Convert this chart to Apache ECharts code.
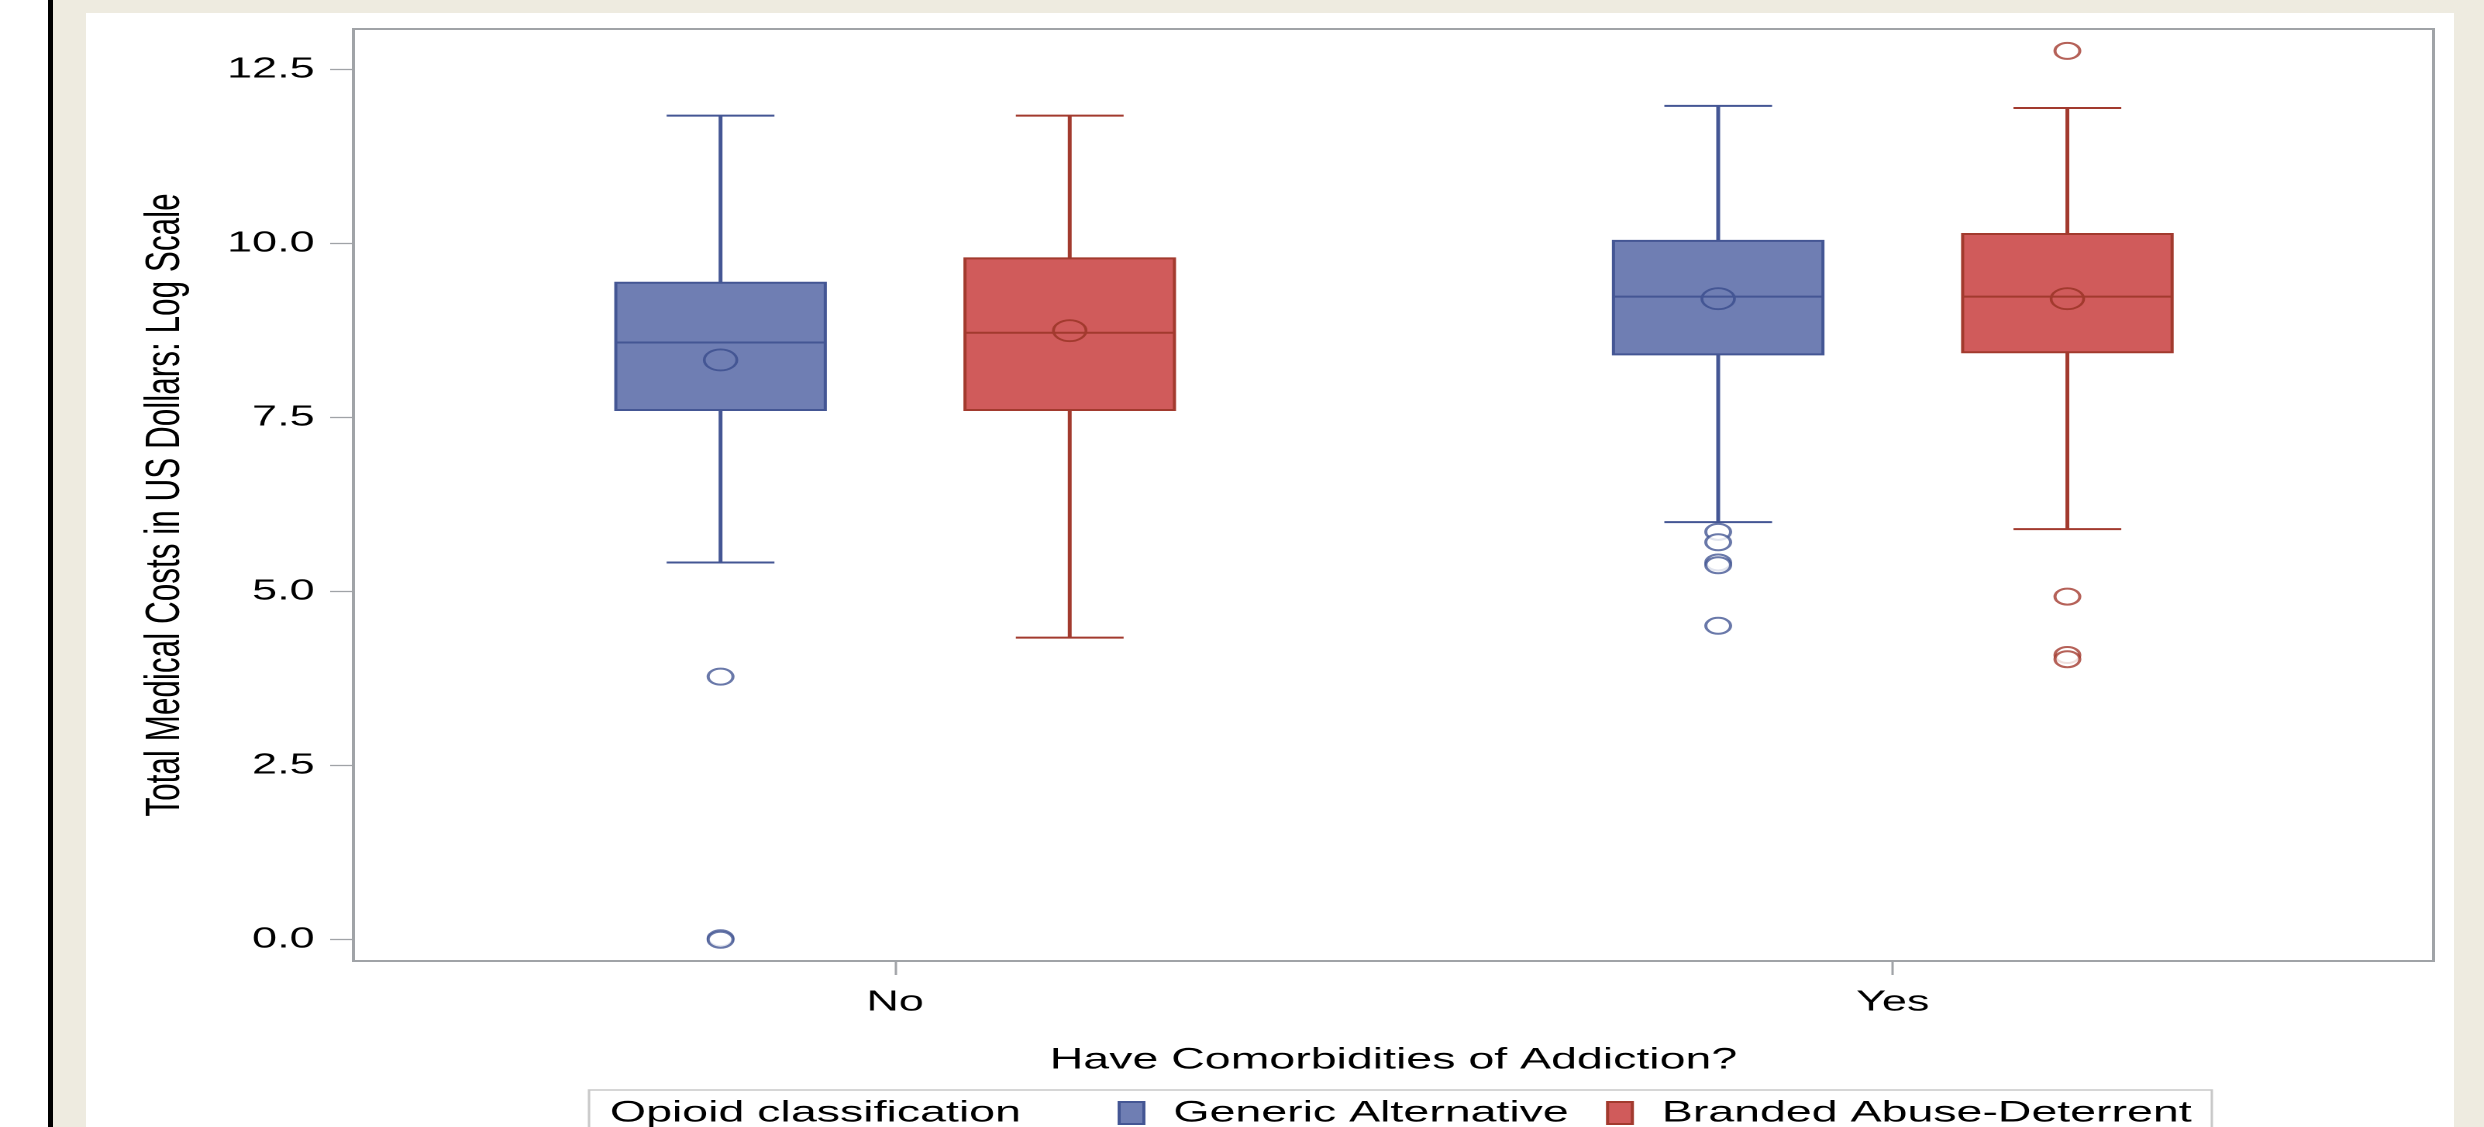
<!DOCTYPE html>
<html><head><meta charset="utf-8">
<script src="https://cdn.jsdelivr.net/npm/echarts@6/dist/echarts.min.js"></script>
<style>
html,body{margin:0;padding:0;width:2484px;height:1127px;overflow:hidden;background:#fff;}
#bar{position:absolute;left:48px;top:0;width:5px;height:1127px;background:#000;}
#beige{position:absolute;left:53px;top:0;width:2431px;height:1127px;background:#EEEBE0;}
#panel{position:absolute;left:86px;top:13px;width:2368px;height:1114px;background:#fff;}
#chart{position:absolute;left:0;top:0;width:1602.58px;height:1127px;transform:scaleX(1.55);transform-origin:0 0;}
</style></head>
<body>
<div id="bar"></div><div id="beige"></div><div id="panel"></div>
<div id="chart"></div>
<script>
// ---- data ----
const categories = ['No', 'Yes'];
const seriesNames = ['Generic Alternative', 'Branded Abuse-Deterrent'];
// [low whisker, Q1, median, Q3, high whisker, mean] per category
const genericStats = [[5.42, 7.61, 8.58, 9.44, 11.84, 8.33], [6.00, 8.41, 9.24, 10.04, 11.98, 9.21]];
const brandedStats = [[4.34, 7.61, 8.72, 9.79, 11.84, 8.75], [5.90, 8.44, 9.24, 10.14, 11.95, 9.21]];
const genericOutliers = [[3.78, 0.02, 0.0], [5.86, 5.71, 5.42, 5.38, 4.51]];
const brandedOutliers = [[], [12.77, 4.93, 4.09, 4.03]];
const yTicks = [0, 2.5, 5, 7.5, 10, 12.5];

// ---- style ----
const BLUE_FILL = '#6F7EB3', BLUE_LINE = '#445694';
const RED_FILL = '#D05B5B', RED_LINE = '#A23A2E';
const AXIS_GRAY = '#A0A3A7';
const GROUP_OFFSET = 0.175;
const BOX_WIDTH = 0.21;
const CAP_WIDTH = 0.108;
const FONT = 'Liberation Sans';

function boxSeries(name, stats, fill, line, offset) {
  return {
    type: 'custom', name: name,
    data: stats.map((s, i) => [i].concat(s)),
    encode: { x: 0, y: [1, 2, 3, 4, 5] },
    itemStyle: { color: fill, borderColor: line },
    renderItem: function (params, api) {
      const xv = api.value(0) + offset;
      const cx = api.coord([xv, 0])[0];
      const bw = api.size([BOX_WIDTH, 0])[0];
      const cw = api.size([CAP_WIDTH, 0])[0];
      const Y = k => api.coord([xv, api.value(k)])[1];
      const yLow = Y(1), yQ1 = Y(2), yMed = Y(3), yQ3 = Y(4), yHigh = Y(5), yMean = Y(6);
      return {
        type: 'group', children: [
          { type: 'line', shape: { x1: cx, y1: yHigh, x2: cx, y2: yQ3 }, style: { stroke: line, lineWidth: 2.5 } },
          { type: 'line', shape: { x1: cx, y1: yQ1, x2: cx, y2: yLow }, style: { stroke: line, lineWidth: 2.5 } },
          { type: 'line', shape: { x1: cx - cw / 2, y1: yHigh, x2: cx + cw / 2, y2: yHigh }, style: { stroke: line, lineWidth: 2 } },
          { type: 'line', shape: { x1: cx - cw / 2, y1: yLow, x2: cx + cw / 2, y2: yLow }, style: { stroke: line, lineWidth: 2 } },
          { type: 'rect', shape: { x: cx - bw / 2, y: yQ3, width: bw, height: yQ1 - yQ3 }, style: { fill: fill, stroke: line, lineWidth: 2 } },
          { type: 'line', shape: { x1: cx - bw / 2, y1: yMed, x2: cx + bw / 2, y2: yMed }, style: { stroke: line, lineWidth: 2 } },
          { type: 'circle', shape: { cx: cx, cy: yMean, r: 10.5 }, style: { fill: 'none', stroke: line, lineWidth: 1.8 } }
        ]
      };
    }
  };
}

function outlierSeries(name, outliers, line, offset) {
  const data = [];
  outliers.forEach((arr, i) => arr.forEach(v => data.push([i + offset, v])));
  return {
    type: 'scatter', name: name, data: data,
    symbol: 'emptyCircle', symbolSize: 16,
    itemStyle: { color: line, borderColor: line, borderWidth: 2 },
    z: 3
  };
}

const chart = echarts.init(document.getElementById('chart'), null, { renderer: 'canvas', devicePixelRatio: 2 });
chart.setOption({
  animation: false,
  textStyle: { fontFamily: FONT },
  title: {
    text: 'Opioid classification', left: 393.5, top: 1098, padding: 0,
    textStyle: { fontFamily: FONT, fontSize: 30, fontWeight: 'normal', color: '#000' }
  },
  legend: {
    left: 380, top: 1090, orient: 'horizontal',
    padding: [8, 13, 10, 341],
    borderColor: '#C8C8C8', borderWidth: 1.5,
    itemWidth: 16, itemHeight: 22, itemGap: 24, icon: 'rect',
    textStyle: { fontFamily: FONT, fontSize: 30, color: '#000', padding: [0, 0, 0, 14] },
    data: [
      { name: seriesNames[0], itemStyle: { color: BLUE_FILL, borderColor: BLUE_LINE, borderWidth: 2 } },
      { name: seriesNames[1], itemStyle: { color: RED_FILL, borderColor: RED_LINE, borderWidth: 2 } }
    ]
  },
  grid: {
    left: 228, top: 29, width: 1342, height: 932,
    show: true, borderColor: AXIS_GRAY, borderWidth: 2, backgroundColor: 'transparent'
  },
  xAxis: {
    type: 'value', min: -0.543, max: 1.542,
    axisLine: { show: false, onZero: false }, splitLine: { show: false },
    axisTick: { show: true, customValues: categories.map((c, i) => i), length: 14, lineStyle: { color: AXIS_GRAY, width: 1.5 } },
    axisLabel: { customValues: categories.map((c, i) => i), formatter: v => categories[Math.round(v)], margin: 27, fontSize: 29, color: '#000', fontFamily: FONT },
    name: 'Have Comorbidities of Addiction?', nameLocation: 'middle', nameGap: 84,
    nameTextStyle: { fontSize: 30, color: '#000', fontFamily: FONT }
  },
  yAxis: {
    type: 'value', min: -0.306, max: 13.085,
    axisLine: { show: false, onZero: false }, splitLine: { show: false },
    axisTick: { show: true, customValues: yTicks, length: 15, lineStyle: { color: AXIS_GRAY, width: 1.3 } },
    axisLabel: { customValues: yTicks, formatter: v => v.toFixed(1), margin: 25, fontSize: 29, color: '#000', fontFamily: FONT },
    name: 'Total Medical Costs in US Dollars: Log Scale', nameLocation: 'middle', nameGap: 105,
    nameTextStyle: { fontSize: 31.5, color: '#000', fontFamily: FONT, padding: [0, 20, 0, 0] }
  },
  series: [
    boxSeries(seriesNames[0], genericStats, BLUE_FILL, BLUE_LINE, -GROUP_OFFSET),
    boxSeries(seriesNames[1], brandedStats, RED_FILL, RED_LINE, GROUP_OFFSET),
    outlierSeries(seriesNames[0] + ' outliers', genericOutliers, BLUE_LINE, -GROUP_OFFSET),
    outlierSeries(seriesNames[1] + ' outliers', brandedOutliers, RED_LINE, GROUP_OFFSET)
  ]
});
</script>
</body></html>
